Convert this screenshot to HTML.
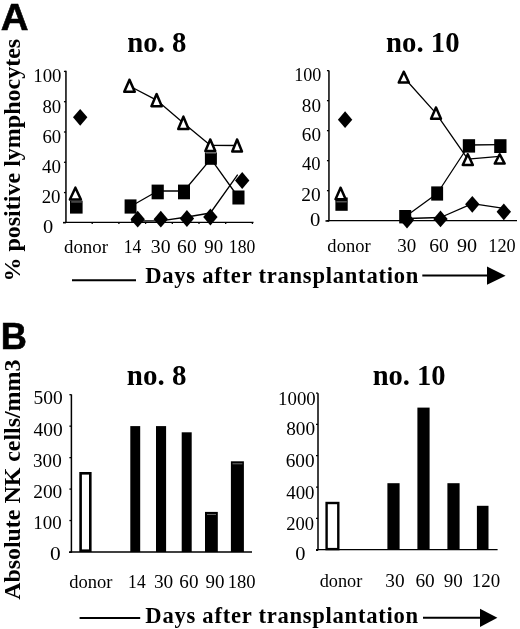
<!DOCTYPE html>
<html><head><meta charset="utf-8"><style>
html,body{margin:0;padding:0;background:#fff;}
svg{display:block;will-change:transform;}
</style></head><body>
<svg width="520" height="629" viewBox="0 0 520 629">
<rect width="520" height="629" fill="#fff"/>
<line x1="65.95" y1="70.70" x2="65.95" y2="223.00" stroke="#000" stroke-width="1.50"/>
<line x1="63.00" y1="222.65" x2="65.95" y2="222.65" stroke="#000" stroke-width="1.60"/>
<line x1="65.30" y1="222.35" x2="253.50" y2="222.35" stroke="#000" stroke-width="1.30"/>
<line x1="63.95" y1="192.58" x2="65.95" y2="192.58" stroke="#000" stroke-width="1.30"/>
<line x1="63.95" y1="162.29" x2="65.95" y2="162.29" stroke="#000" stroke-width="1.30"/>
<line x1="63.95" y1="131.99" x2="65.95" y2="131.99" stroke="#000" stroke-width="1.30"/>
<line x1="63.95" y1="101.70" x2="65.95" y2="101.70" stroke="#000" stroke-width="1.30"/>
<line x1="63.95" y1="71.41" x2="65.95" y2="71.41" stroke="#000" stroke-width="1.30"/>
<line x1="92.20" y1="222.35" x2="92.20" y2="223.95" stroke="#000" stroke-width="1.30"/>
<line x1="118.90" y1="222.35" x2="118.90" y2="223.95" stroke="#000" stroke-width="1.30"/>
<line x1="145.60" y1="222.35" x2="145.60" y2="223.95" stroke="#000" stroke-width="1.30"/>
<line x1="172.30" y1="222.35" x2="172.30" y2="223.95" stroke="#000" stroke-width="1.30"/>
<line x1="199.00" y1="222.35" x2="199.00" y2="223.95" stroke="#000" stroke-width="1.30"/>
<line x1="225.70" y1="222.35" x2="225.70" y2="223.95" stroke="#000" stroke-width="1.30"/>
<line x1="252.40" y1="222.35" x2="252.40" y2="223.95" stroke="#000" stroke-width="1.30"/>
<polyline points="129.50,86.00 156.50,100.10 183.40,122.90 210.30,145.30 237.20,145.50" fill="none" stroke="#000" stroke-width="1.30" stroke-linejoin="round"/>
<polyline points="130.50,206.50 157.70,191.00 184.00,191.00 210.90,158.80 238.50,197.50" fill="none" stroke="#000" stroke-width="1.30" stroke-linejoin="round"/>
<polyline points="131.00,221.00 160.80,220.80 186.90,217.00 210.40,213.00 237.70,174.70" fill="none" stroke="#000" stroke-width="1.30" stroke-linejoin="round"/>
<polygon points="80.20,108.90 87.40,117.30 80.20,125.70 73.00,117.30" fill="#000"/>
<polygon points="137.70,210.80 144.90,219.20 137.70,227.60 130.50,219.20" fill="#000"/>
<polygon points="160.80,210.80 168.00,219.20 160.80,227.60 153.60,219.20" fill="#000"/>
<polygon points="186.90,210.10 194.10,218.50 186.90,226.90 179.70,218.50" fill="#000"/>
<polygon points="210.40,208.60 217.60,217.00 210.40,225.40 203.20,217.00" fill="#000"/>
<polygon points="242.20,172.10 249.40,180.50 242.20,188.90 235.00,180.50" fill="#000"/>
<rect x="70.00" y="200.60" width="12.60" height="13.00" fill="#000"/>
<rect x="124.60" y="199.40" width="11.90" height="14.20" fill="#000"/>
<rect x="151.60" y="184.60" width="12.20" height="14.70" fill="#000"/>
<rect x="178.00" y="184.60" width="12.00" height="14.70" fill="#000"/>
<rect x="204.90" y="152.40" width="12.00" height="12.40" fill="#000"/>
<rect x="232.40" y="190.50" width="12.10" height="14.00" fill="#000"/>
<polygon points="75.40,187.65 69.90,199.55 80.90,199.55" fill="#fff" stroke="#000" stroke-width="2.50" stroke-linejoin="round"/>
<polygon points="129.50,79.75 124.25,91.75 134.75,91.75" fill="#fff" stroke="#000" stroke-width="2.50" stroke-linejoin="round"/>
<polygon points="156.60,94.05 151.45,106.15 161.75,106.15" fill="#fff" stroke="#000" stroke-width="2.50" stroke-linejoin="round"/>
<polygon points="183.40,116.65 178.25,129.05 188.55,129.05" fill="#fff" stroke="#000" stroke-width="2.50" stroke-linejoin="round"/>
<polygon points="210.30,139.45 205.35,151.05 215.25,151.05" fill="#fff" stroke="#000" stroke-width="2.50" stroke-linejoin="round"/>
<polygon points="237.10,139.45 232.25,151.55 241.95,151.55" fill="#fff" stroke="#000" stroke-width="2.50" stroke-linejoin="round"/>
<rect x="71.2" y="201.5" width="10.6" height="0.9" fill="#888"/>
<rect x="205.8" y="152.6" width="10.2" height="0.8" fill="#999"/>
<line x1="328.95" y1="70.60" x2="328.95" y2="221.30" stroke="#000" stroke-width="1.50"/>
<line x1="325.50" y1="220.95" x2="328.95" y2="220.95" stroke="#000" stroke-width="1.60"/>
<line x1="328.30" y1="220.65" x2="517.00" y2="220.65" stroke="#000" stroke-width="1.30"/>
<line x1="326.95" y1="220.65" x2="328.95" y2="220.65" stroke="#000" stroke-width="1.30"/>
<line x1="326.95" y1="190.65" x2="328.95" y2="190.65" stroke="#000" stroke-width="1.30"/>
<line x1="326.95" y1="160.65" x2="328.95" y2="160.65" stroke="#000" stroke-width="1.30"/>
<line x1="326.95" y1="130.65" x2="328.95" y2="130.65" stroke="#000" stroke-width="1.30"/>
<line x1="326.95" y1="100.65" x2="328.95" y2="100.65" stroke="#000" stroke-width="1.30"/>
<line x1="326.95" y1="70.65" x2="328.95" y2="70.65" stroke="#000" stroke-width="1.30"/>
<polyline points="403.70,77.20 435.80,113.10 467.80,159.20 499.70,156.40" fill="none" stroke="#000" stroke-width="1.30" stroke-linejoin="round"/>
<polyline points="405.20,216.70 437.20,193.50 469.00,145.00 500.30,144.60" fill="none" stroke="#000" stroke-width="1.30" stroke-linejoin="round"/>
<polyline points="407.00,218.50 440.50,217.50 472.30,203.60 503.80,208.30" fill="none" stroke="#000" stroke-width="1.30" stroke-linejoin="round"/>
<polygon points="345.10,111.30 352.30,119.70 345.10,128.10 337.90,119.70" fill="#000"/>
<polygon points="407.00,211.60 414.20,220.00 407.00,228.40 399.80,220.00" fill="#000"/>
<polygon points="440.50,210.50 447.70,218.90 440.50,227.30 433.30,218.90" fill="#000"/>
<polygon points="472.30,195.90 479.50,204.30 472.30,212.70 465.10,204.30" fill="#000"/>
<polygon points="503.80,203.40 511.00,211.80 503.80,220.20 496.60,211.80" fill="#000"/>
<rect x="335.40" y="197.50" width="12.30" height="13.30" fill="#000"/>
<rect x="399.20" y="210.00" width="12.00" height="13.40" fill="#000"/>
<rect x="431.20" y="186.40" width="11.90" height="14.20" fill="#000"/>
<rect x="462.80" y="139.20" width="12.30" height="13.40" fill="#000"/>
<rect x="494.20" y="139.20" width="12.30" height="13.80" fill="#000"/>
<polygon points="340.60,187.75 335.55,199.15 345.65,199.15" fill="#fff" stroke="#000" stroke-width="2.50" stroke-linejoin="round"/>
<polygon points="403.80,71.75 398.75,82.55 408.85,82.55" fill="#fff" stroke="#000" stroke-width="2.50" stroke-linejoin="round"/>
<polygon points="436.00,107.45 431.05,118.75 440.95,118.75" fill="#fff" stroke="#000" stroke-width="2.50" stroke-linejoin="round"/>
<polygon points="467.80,154.25 462.75,164.95 472.85,164.95" fill="#fff" stroke="#000" stroke-width="2.50" stroke-linejoin="round"/>
<polygon points="499.70,154.25 494.75,163.55 504.65,163.55" fill="#fff" stroke="#000" stroke-width="2.50" stroke-linejoin="round"/>
<rect x="336.4" y="201.4" width="10.4" height="0.9" fill="#888"/>
<line x1="72.00" y1="280.20" x2="136.00" y2="280.20" stroke="#000" stroke-width="2.00"/>
<line x1="422.30" y1="275.60" x2="488.00" y2="275.60" stroke="#000" stroke-width="2.00"/>
<polygon points="487,266.6 505.6,275.7 487,284.8" fill="#000"/>
<line x1="71.40" y1="394.40" x2="71.40" y2="552.65" stroke="#000" stroke-width="1.50"/>
<line x1="69.00" y1="552.20" x2="71.40" y2="552.20" stroke="#000" stroke-width="1.50"/>
<line x1="70.75" y1="552.00" x2="252.00" y2="552.00" stroke="#000" stroke-width="1.30"/>
<line x1="69.40" y1="552.00" x2="71.40" y2="552.00" stroke="#000" stroke-width="1.30"/>
<line x1="69.40" y1="520.54" x2="71.40" y2="520.54" stroke="#000" stroke-width="1.30"/>
<line x1="69.40" y1="489.08" x2="71.40" y2="489.08" stroke="#000" stroke-width="1.30"/>
<line x1="69.40" y1="457.62" x2="71.40" y2="457.62" stroke="#000" stroke-width="1.30"/>
<line x1="69.40" y1="426.16" x2="71.40" y2="426.16" stroke="#000" stroke-width="1.30"/>
<line x1="69.40" y1="394.70" x2="71.40" y2="394.70" stroke="#000" stroke-width="1.30"/>
<rect x="80.6" y="473.3" width="9.7" height="77.4" fill="#fff" stroke="#000" stroke-width="2.6"/>
<rect x="130.30" y="426.10" width="9.90" height="125.90" fill="#000"/>
<rect x="156.00" y="426.10" width="10.10" height="125.90" fill="#000"/>
<rect x="181.70" y="432.30" width="10.00" height="119.70" fill="#000"/>
<rect x="205.00" y="511.90" width="12.80" height="40.10" fill="#000"/>
<rect x="230.90" y="461.30" width="13.00" height="90.70" fill="#000"/>
<rect x="207.00" y="513.95" width="9.00" height="0.9" fill="#777"/>
<rect x="232.50" y="463.35" width="9.90" height="0.9" fill="#777"/>
<line x1="318.00" y1="393.30" x2="318.00" y2="550.35" stroke="#000" stroke-width="1.50"/>
<line x1="316.00" y1="550.10" x2="318.00" y2="550.10" stroke="#000" stroke-width="1.60"/>
<line x1="317.35" y1="549.70" x2="497.60" y2="549.70" stroke="#000" stroke-width="1.30"/>
<line x1="316.00" y1="549.70" x2="318.00" y2="549.70" stroke="#000" stroke-width="1.30"/>
<line x1="316.00" y1="518.37" x2="318.00" y2="518.37" stroke="#000" stroke-width="1.30"/>
<line x1="316.00" y1="487.03" x2="318.00" y2="487.03" stroke="#000" stroke-width="1.30"/>
<line x1="316.00" y1="455.70" x2="318.00" y2="455.70" stroke="#000" stroke-width="1.30"/>
<line x1="316.00" y1="424.36" x2="318.00" y2="424.36" stroke="#000" stroke-width="1.30"/>
<line x1="316.00" y1="393.03" x2="318.00" y2="393.03" stroke="#000" stroke-width="1.30"/>
<rect x="326.6" y="503.0" width="11.7" height="46.1" fill="#fff" stroke="#000" stroke-width="2.4"/>
<rect x="387.40" y="483.20" width="12.20" height="66.50" fill="#000"/>
<rect x="417.40" y="407.60" width="12.20" height="142.10" fill="#000"/>
<rect x="447.40" y="483.20" width="12.20" height="66.50" fill="#000"/>
<rect x="476.90" y="505.80" width="11.60" height="43.90" fill="#000"/>
<line x1="79.60" y1="618.10" x2="140.20" y2="618.10" stroke="#000" stroke-width="2.00"/>
<line x1="423.00" y1="617.80" x2="481.00" y2="617.80" stroke="#000" stroke-width="2.00"/>
<polygon points="480,608.8 497.4,617.8 480,627" fill="#000"/>
<text transform="translate(0.85,29.60) scale(1.0235,1.0000)" font-family="Liberation Sans" font-weight="bold" font-size="37.60" stroke="#000" stroke-width="0.6">A</text>
<text transform="translate(0.66,348.80) scale(0.9636,1.0000)" font-family="Liberation Sans" font-weight="bold" font-size="37.60" stroke="#000" stroke-width="0.6">B</text>
<text transform="translate(127.24,51.70) scale(0.9662,1.0000)" font-family="Liberation Serif" font-weight="bold" font-size="29.80">no. 8</text>
<text transform="translate(33.31,82.20) scale(1.0291,1.0000)" font-family="Liberation Serif" font-weight="normal" font-size="18.30">100</text>
<text transform="translate(42.45,112.90) scale(1.0276,1.0000)" font-family="Liberation Serif" font-weight="normal" font-size="18.30">80</text>
<text transform="translate(42.45,143.00) scale(1.0276,1.0000)" font-family="Liberation Serif" font-weight="normal" font-size="18.30">60</text>
<text transform="translate(42.02,172.60) scale(1.0406,1.0000)" font-family="Liberation Serif" font-weight="normal" font-size="18.30">40</text>
<text transform="translate(41.64,202.90) scale(1.0335,1.0000)" font-family="Liberation Serif" font-weight="normal" font-size="18.30">20</text>
<text transform="translate(43.08,233.00) scale(1.1189,1.0000)" font-family="Liberation Serif" font-weight="normal" font-size="18.30">0</text>
<text transform="translate(63.94,252.60) scale(1.0330,1.0000)" font-family="Liberation Serif" font-weight="normal" font-size="18.30">donor</text>
<text transform="translate(123.82,252.60) scale(0.9578,1.0000)" font-family="Liberation Serif" font-weight="normal" font-size="18.30">14</text>
<text transform="translate(150.81,252.60) scale(1.0809,1.0000)" font-family="Liberation Serif" font-weight="normal" font-size="18.30">30</text>
<text transform="translate(177.12,252.60) scale(1.0691,1.0000)" font-family="Liberation Serif" font-weight="normal" font-size="18.30">60</text>
<text transform="translate(204.24,252.60) scale(1.0283,1.0000)" font-family="Liberation Serif" font-weight="normal" font-size="18.30">90</text>
<text transform="translate(228.81,252.60) scale(0.9653,1.0000)" font-family="Liberation Serif" font-weight="normal" font-size="18.30">180</text>
<text transform="translate(386.04,51.80) scale(0.9649,1.0000)" font-family="Liberation Serif" font-weight="bold" font-size="29.80">no. 10</text>
<text transform="translate(294.17,81.30) scale(0.9892,1.0000)" font-family="Liberation Serif" font-weight="normal" font-size="18.30">100</text>
<text transform="translate(301.83,111.50) scale(1.0454,1.0000)" font-family="Liberation Serif" font-weight="normal" font-size="18.30">80</text>
<text transform="translate(301.83,141.40) scale(1.0454,1.0000)" font-family="Liberation Serif" font-weight="normal" font-size="18.30">60</text>
<text transform="translate(302.03,170.30) scale(1.0173,1.0000)" font-family="Liberation Serif" font-weight="normal" font-size="18.30">40</text>
<text transform="translate(301.32,200.50) scale(1.0632,1.0000)" font-family="Liberation Serif" font-weight="normal" font-size="18.30">20</text>
<text transform="translate(310.07,226.30) scale(1.1319,1.0000)" font-family="Liberation Serif" font-weight="normal" font-size="18.30">0</text>
<text transform="translate(327.36,252.00) scale(1.0138,1.0000)" font-family="Liberation Serif" font-weight="normal" font-size="18.30">donor</text>
<text transform="translate(397.25,252.00) scale(1.0389,1.0000)" font-family="Liberation Serif" font-weight="normal" font-size="18.30">30</text>
<text transform="translate(429.22,252.00) scale(1.0691,1.0000)" font-family="Liberation Serif" font-weight="normal" font-size="18.30">60</text>
<text transform="translate(456.90,252.00) scale(1.0988,1.0000)" font-family="Liberation Serif" font-weight="normal" font-size="18.30">90</text>
<text transform="translate(488.36,252.00) scale(0.9972,1.0000)" font-family="Liberation Serif" font-weight="normal" font-size="18.30">120</text>
<text transform="translate(145.15,282.50) scale(1.0000,1.0500)" font-family="Liberation Serif" font-weight="bold" font-size="22.60" letter-spacing="0.757">Days after transplantation</text>
<text transform="translate(20.20,281.60) rotate(-90) scale(1.0010,1.0000)" font-family="Liberation Serif" font-weight="bold" font-size="24.00">% positive lymphocytes</text>
<text transform="translate(126.83,385.20) scale(0.9730,1.0000)" font-family="Liberation Serif" font-weight="bold" font-size="29.80">no. 8</text>
<text transform="translate(33.53,403.80) scale(1.0656,1.0000)" font-family="Liberation Serif" font-weight="normal" font-size="18.30">500</text>
<text transform="translate(33.61,435.90) scale(1.0625,1.0000)" font-family="Liberation Serif" font-weight="normal" font-size="18.30">400</text>
<text transform="translate(33.04,467.30) scale(1.0464,1.0000)" font-family="Liberation Serif" font-weight="normal" font-size="18.30">300</text>
<text transform="translate(33.23,498.30) scale(1.0583,1.0000)" font-family="Liberation Serif" font-weight="normal" font-size="18.30">200</text>
<text transform="translate(33.29,529.30) scale(1.0371,1.0000)" font-family="Liberation Serif" font-weight="normal" font-size="18.30">100</text>
<text transform="translate(49.94,560.40) scale(1.1710,1.0000)" font-family="Liberation Serif" font-weight="normal" font-size="18.30">0</text>
<text transform="translate(69.26,587.50) scale(1.0138,1.0000)" font-family="Liberation Serif" font-weight="normal" font-size="18.30">donor</text>
<text transform="translate(128.12,587.50) scale(0.9578,1.0000)" font-family="Liberation Serif" font-weight="normal" font-size="18.30">14</text>
<text transform="translate(153.93,587.50) scale(1.0569,1.0000)" font-family="Liberation Serif" font-weight="normal" font-size="18.30">30</text>
<text transform="translate(179.33,587.50) scale(1.0454,1.0000)" font-family="Liberation Serif" font-weight="normal" font-size="18.30">60</text>
<text transform="translate(205.43,587.50) scale(1.0400,1.0000)" font-family="Liberation Serif" font-weight="normal" font-size="18.30">90</text>
<text transform="translate(227.72,587.50) scale(1.0171,1.0000)" font-family="Liberation Serif" font-weight="normal" font-size="18.30">180</text>
<text transform="translate(372.64,385.00) scale(0.9582,1.0000)" font-family="Liberation Serif" font-weight="bold" font-size="29.80">no. 10</text>
<text transform="translate(278.11,404.80) scale(1.0286,1.0000)" font-family="Liberation Serif" font-weight="normal" font-size="18.30">1000</text>
<text transform="translate(286.23,435.40) scale(1.0544,1.0000)" font-family="Liberation Serif" font-weight="normal" font-size="18.30">800</text>
<text transform="translate(285.63,467.30) scale(1.0544,1.0000)" font-family="Liberation Serif" font-weight="normal" font-size="18.30">600</text>
<text transform="translate(286.22,498.70) scale(1.0322,1.0000)" font-family="Liberation Serif" font-weight="normal" font-size="18.30">400</text>
<text transform="translate(286.16,530.00) scale(1.0159,1.0000)" font-family="Liberation Serif" font-weight="normal" font-size="18.30">200</text>
<text transform="translate(295.18,560.20) scale(1.1189,1.0000)" font-family="Liberation Serif" font-weight="normal" font-size="18.30">0</text>
<text transform="translate(319.67,587.10) scale(0.9994,1.0000)" font-family="Liberation Serif" font-weight="normal" font-size="18.30">donor</text>
<text transform="translate(385.23,587.10) scale(1.0569,1.0000)" font-family="Liberation Serif" font-weight="normal" font-size="18.30">30</text>
<text transform="translate(415.43,587.10) scale(1.0573,1.0000)" font-family="Liberation Serif" font-weight="normal" font-size="18.30">60</text>
<text transform="translate(443.63,587.10) scale(1.0400,1.0000)" font-family="Liberation Serif" font-weight="normal" font-size="18.30">90</text>
<text transform="translate(471.80,587.10) scale(1.0331,1.0000)" font-family="Liberation Serif" font-weight="normal" font-size="18.30">120</text>
<text transform="translate(145.35,622.60) scale(1.0000,1.0500)" font-family="Liberation Serif" font-weight="bold" font-size="22.60" letter-spacing="0.737">Days after transplantation</text>
<text transform="translate(19.60,599.84) rotate(-90) scale(0.9957,1.0000)" font-family="Liberation Serif" font-weight="bold" font-size="24.00">Absolute NK cells/mm3</text>
</svg>
</body></html>
